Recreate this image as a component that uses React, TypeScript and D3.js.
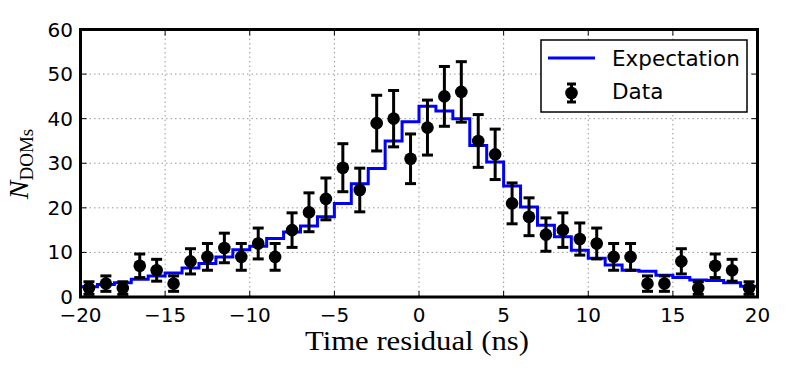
import React from "react";
import * as d3 from "d3";

const binEdges: number[] = d3.range(-20, 21, 1);
const binCenters: number[] = d3.range(-19.5, 20, 1);
const dataCounts: number[] = [2, 3, 2, 7, 6, 3, 8, 9, 11, 9, 12, 9, 15, 19, 22, 29, 24, 39, 40, 31, 38, 45, 46, 35, 32, 21, 18, 14, 15, 13, 12, 9, 9, 3, 3, 8, 2, 7, 6, 2];
const expectation: number[] = [2.3, 2.8, 3.2, 4.0, 4.7, 5.4, 6.5, 7.5, 9.0, 10.6, 11.4, 13.1, 14.6, 15.9, 18.0, 21.0, 25.4, 28.8, 35.0, 39.3, 42.8, 41.7, 40.0, 34.0, 30.3, 24.9, 20.2, 16.1, 13.5, 10.5, 8.7, 7.2, 6.0, 5.8, 4.9, 4.4, 3.8, 3.7, 3.2, 2.4];
const xTicks: number[] = [-20, -15, -10, -5, 0, 5, 10, 15, 20];
const yTicks: number[] = [0, 10, 20, 30, 40, 50, 60];
const legendLabels: string[] = ["Expectation", "Data"];

const W = 789, H = 372;
const L = 80.5, R = 757.5, T = 29.5, B = 297;

export default function App() {
  const x = d3.scaleLinear().domain([-20, 20]).range([L, R]);
  const y = d3.scaleLinear().domain([0, 60]).range([B, T]);

  const stepPts: [number, number][] = [];
  expectation.forEach((v, i) => {
    stepPts.push([binEdges[i], v]);
    stepPts.push([binEdges[i + 1], v]);
  });
  const line = d3.line<[number, number]>().x(d => x(d[0])).y(d => y(d[1]));

  const minus = (v: number) => (v < 0 ? "\u2212" + Math.abs(v) : String(v));
  const sans = "DejaVu Sans";

  return (
    <svg width={W} height={H} style={{ position: "absolute", left: 0, top: 0 }}>
      <rect width={W} height={H} fill="#fff" />
      {/* grid */}
      {xTicks.slice(1, -1).map(t => (
        <line key={"gx" + t} x1={x(t)} x2={x(t)} y1={T} y2={B} stroke="#999" strokeWidth={1} strokeDasharray="1.5,3" />
      ))}
      {yTicks.slice(1, -1).map(t => (
        <line key={"gy" + t} x1={L} x2={R} y1={y(t)} y2={y(t)} stroke="#999" strokeWidth={1} strokeDasharray="1.5,3" />
      ))}
      {/* ticks (inward, all four sides) */}
      {xTicks.map(t => (
        <g key={"tx" + t}>
          <line x1={x(t)} x2={x(t)} y1={B} y2={B - 6} stroke="#000" strokeWidth={1} />
          <line x1={x(t)} x2={x(t)} y1={T} y2={T + 6} stroke="#000" strokeWidth={1} />
          <text x={x(t)} y={322} textAnchor="middle" fontFamily={sans} fontSize={20} fill="#000">{minus(t)}</text>
        </g>
      ))}
      {yTicks.map(t => (
        <g key={"ty" + t}>
          <line x1={L} x2={L + 6} y1={y(t)} y2={y(t)} stroke="#000" strokeWidth={1} />
          <line x1={R} x2={R - 6} y1={y(t)} y2={y(t)} stroke="#000" strokeWidth={1} />
          <text x={73} y={y(t) + 7} textAnchor="end" fontFamily={sans} fontSize={20} fill="#000">{t}</text>
        </g>
      ))}
      {/* expectation */}
      <path d={line(stepPts) || ""} fill="none" stroke="#0000ff" strokeWidth={3} />
      {/* data */}
      {dataCounts.map((v, i) => {
        const cx = x(binCenters[i]);
        const e = Math.sqrt(v);
        const y1 = y(v + e), y2 = y(Math.max(0, v - e));
        return (
          <g key={"d" + i}>
            <line x1={cx} x2={cx} y1={y1} y2={y2} stroke="#000" strokeWidth={3} />
            <line x1={cx - 5.5} x2={cx + 5.5} y1={y1} y2={y1} stroke="#000" strokeWidth={3} />
            <line x1={cx - 5.5} x2={cx + 5.5} y1={y2} y2={y2} stroke="#000" strokeWidth={3} />
            <circle cx={cx} cy={y(v)} r={6.3} fill="#000" />
          </g>
        );
      })}
      {/* frame */}
      <rect x={L} y={T} width={R - L} height={B - T} fill="none" stroke="#000" strokeWidth={3} />
      {/* legend */}
      <g>
        <rect x={541} y={40} width={206} height={72} fill="#fff" stroke="#000" strokeWidth={1.5} />
        <line x1={548} x2={595} y1={58} y2={58} stroke="#0000ff" strokeWidth={3} />
        <text x={612} y={65.5} fontFamily={sans} fontSize={21.5} fill="#000">{legendLabels[0]}</text>
        <line x1={571.5} x2={571.5} y1={84} y2={102} stroke="#000" strokeWidth={3} />
        <line x1={567} x2={576} y1={84} y2={84} stroke="#000" strokeWidth={3} />
        <line x1={567} x2={576} y1={102} y2={102} stroke="#000" strokeWidth={3} />
        <circle cx={571.5} cy={93} r={6.3} fill="#000" />
        <text x={612} y={98.5} fontFamily={sans} fontSize={21.5} fill="#000">{legendLabels[1]}</text>
      </g>
      {/* axis labels */}
      <text x={417} y={350} textAnchor="middle" fontFamily="Liberation Serif" fontSize={28} textLength={224} lengthAdjust="spacingAndGlyphs" fill="#000">Time residual (ns)</text>
      <text transform="translate(28,164) rotate(-90)" textAnchor="middle" fontFamily="Liberation Serif" fontSize={28} fill="#000">
        <tspan fontStyle="italic">N</tspan>
        <tspan fontSize={19} dy={5}>DOMs</tspan>
      </text>
    </svg>
  );
}
